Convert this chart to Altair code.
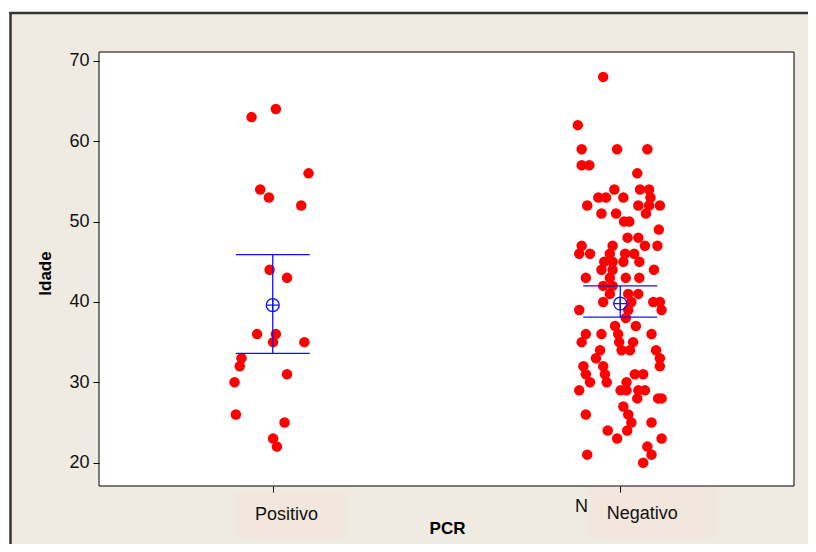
import altair as alt
import pandas as pd

groups = ["Positivo", "Negativo"]

pos_ages = [64, 63, 56, 54, 53, 52, 44, 43, 36, 36, 35, 35, 33, 32, 31, 30, 26, 25, 23, 22]
pos_jitter = [0.009, -0.061, 0.103, -0.036, -0.011, 0.082, -0.009, 0.041, -0.045, 0.009,
              0.001, 0.091, -0.090, -0.095, 0.041, -0.110, -0.106, 0.034, 0.001, 0.012]

neg_ages = [68, 62, 59, 59, 59, 57, 57, 56, 54, 54, 54, 53, 53, 53, 53, 52, 52, 52, 52,
            51, 51, 51, 50, 50, 49, 48, 48, 47, 47, 47, 47, 46, 46, 46, 46, 46,
            45, 45, 45, 45, 44, 44, 44, 43, 43, 43, 43, 42, 42, 41, 41, 41,
            40, 40, 40, 40, 39, 39, 39, 38, 37, 37, 36, 36, 36, 36, 35, 35, 35,
            34, 34, 34, 34, 33, 33, 32, 32, 32, 31, 31, 31, 31, 30, 30, 30,
            29, 29, 29, 29, 29, 28, 28, 28, 27, 26, 26, 25, 25, 24, 24, 23, 23,
            22, 21, 21, 20]
neg_jitter = [-0.049, -0.122, -0.111, -0.009, 0.078, -0.111, -0.089, 0.049, -0.017, 0.057, 0.083,
              -0.063, -0.041, 0.009, 0.087, -0.095, 0.052, 0.083, 0.114,
              -0.054, -0.012, 0.074, 0.011, 0.026, 0.111, 0.021, 0.052,
              -0.111, -0.022, 0.071, 0.107, -0.118, -0.087, -0.030, 0.014, 0.040,
              -0.046, -0.022, 0.009, 0.055, -0.054, -0.022, 0.097, -0.099, -0.030, 0.016, 0.055,
              -0.049, -0.022, -0.030, 0.023, 0.052,
              -0.049, 0.032, 0.095, 0.114, -0.118, 0.023, 0.119, 0.016, -0.015, 0.045,
              -0.099, -0.054, -0.006, 0.090, -0.111, -0.003, 0.037,
              -0.058, 0.004, 0.028, 0.103, -0.070, 0.114, -0.106, -0.049, 0.114,
              -0.099, -0.044, 0.042, 0.066, -0.087, -0.039, 0.018,
              -0.118, 0.001, 0.018, 0.052, 0.071, 0.049, 0.109, 0.119, 0.009, -0.099, 0.023,
              0.032, 0.090, -0.036, 0.020, -0.009, 0.119, 0.078, -0.095, 0.090, 0.066]

means = [39.6, 39.8]
ci_low = [33.6, 38.1]
ci_high = [45.9, 42.0]

rows = []
for a, j in zip(pos_ages, pos_jitter):
    rows.append({"x": 1 + j, "age": a, "PCR": groups[0]})
for a, j in zip(neg_ages, neg_jitter):
    rows.append({"x": 2 + j, "age": a, "PCR": groups[1]})
pts = pd.DataFrame(rows)

summ = pd.DataFrame({"x": [1, 2], "age": means, "lo": ci_low, "hi": ci_high, "PCR": groups})

W, H = 695, 434
FONT = "Liberation Sans"
one = alt.Data(values=[{}])

bg = alt.Chart(one).mark_rect(fill="#efebe2").encode(
    x=alt.value(-88.5), x2=alt.value(709), y=alt.value(-39), y2=alt.value(492))
frame_top = alt.Chart(one).mark_rule(color="#333333", strokeWidth=2.5).encode(
    x=alt.value(-89.5), x2=alt.value(709), y=alt.value(-39))
frame_left = alt.Chart(one).mark_rule(color="#333333", strokeWidth=2.5).encode(
    x=alt.value(-88.5), y=alt.value(-40), y2=alt.value(492))

plot_bg = alt.Chart(one).mark_rect(fill="white", stroke="black", strokeWidth=1).encode(
    x=alt.value(0), x2=alt.value(W), y=alt.value(0), y2=alt.value(H))

n_text = alt.Chart(one).mark_text(text="N", font=FONT, fontSize=18, align="left",
                                  baseline="alphabetic", color="#111").encode(
    x=alt.value(476), y=alt.value(460))

box_pos = alt.Chart(one).mark_rect(fill="#f1e7dc").encode(
    x=alt.value(136), x2=alt.value(248), y=alt.value(440), y2=alt.value(486))
box_neg = alt.Chart(one).mark_rect(fill="#f1e7dc").encode(
    x=alt.value(488), x2=alt.value(618), y=alt.value(435), y2=alt.value(486))

lab_pos = alt.Chart(alt.Data(values=[{"t": groups[0]}])).mark_text(
    font=FONT, fontSize=18, align="left", baseline="alphabetic", color="#111").encode(
    text="t:N", x=alt.value(156), y=alt.value(468))
lab_neg = alt.Chart(alt.Data(values=[{"t": groups[1]}])).mark_text(
    font=FONT, fontSize=18, align="left", baseline="alphabetic", color="#111").encode(
    text="t:N", x=alt.value(507.7), y=alt.value(467))

xenc = alt.X("x:Q", scale=alt.Scale(domain=[0.5, 2.5], nice=False, zero=False),
             axis=alt.Axis(values=[1, 2], labels=False, tickSize=6, tickColor="black",
                           domain=False, grid=False, title="PCR", titleX=348, titleY=42,
                           titleBaseline="middle", titleFontSize=17, titleFontWeight="bold",
                           titleFont=FONT, titleColor="black", zindex=2))
yenc = alt.Y("age:Q", scale=alt.Scale(domain=[17.1, 71.1], nice=False, zero=False),
             axis=alt.Axis(values=[20, 30, 40, 50, 60, 70], tickSize=6, tickColor="black",
                           labelPadding=4, labelFontSize=18, labelFont=FONT, labelColor="#111",
                           domain=False, grid=False, title="Idade", titleX=-54, titleY=221,
                           titleAngle=-90, titleBaseline="middle", titleAlign="center",
                           titleFontSize=17, titleFontWeight="bold", titleFont=FONT,
                           titleColor="black", zindex=2))

points = alt.Chart(pts).mark_circle(color="#ff0000", opacity=1, size=110).encode(
    x=xenc, y=yenc)

err = alt.Chart(summ).mark_rule(color="#1010ff", strokeWidth=1.3).encode(
    x="x:Q", y="lo:Q", y2="hi:Q")
cap_lo = alt.Chart(summ).mark_tick(color="#1010ff", orient="horizontal", size=74,
                                   thickness=1.3, opacity=1).encode(x="x:Q", y="lo:Q")
cap_hi = alt.Chart(summ).mark_tick(color="#1010ff", orient="horizontal", size=74,
                                   thickness=1.3, opacity=1).encode(x="x:Q", y="hi:Q")
mean_mark = alt.Chart(summ).mark_point(
    shape="M -1 0 A 1 1 0 1 0 1 0 A 1 1 0 1 0 -1 0 M -1 0 L 1 0 M 0 -1 L 0 1",
    size=169, filled=False, color="#1010ff", strokeWidth=1.3, opacity=1).encode(
    x="x:Q", y="age:Q")

chart = alt.layer(bg, frame_top, frame_left, plot_bg, n_text, box_pos, box_neg, lab_pos, lab_neg,
                  points, err, cap_lo, cap_hi, mean_mark).properties(
    width=W, height=H,
    autosize=alt.AutoSizeParams(type="none"),
    padding={"left": 91, "top": 44, "right": 14, "bottom": 58},
    background="white",
).configure_view(stroke=None)

chart.save("out.html", embed_options={"renderer": "svg", "actions": False})
